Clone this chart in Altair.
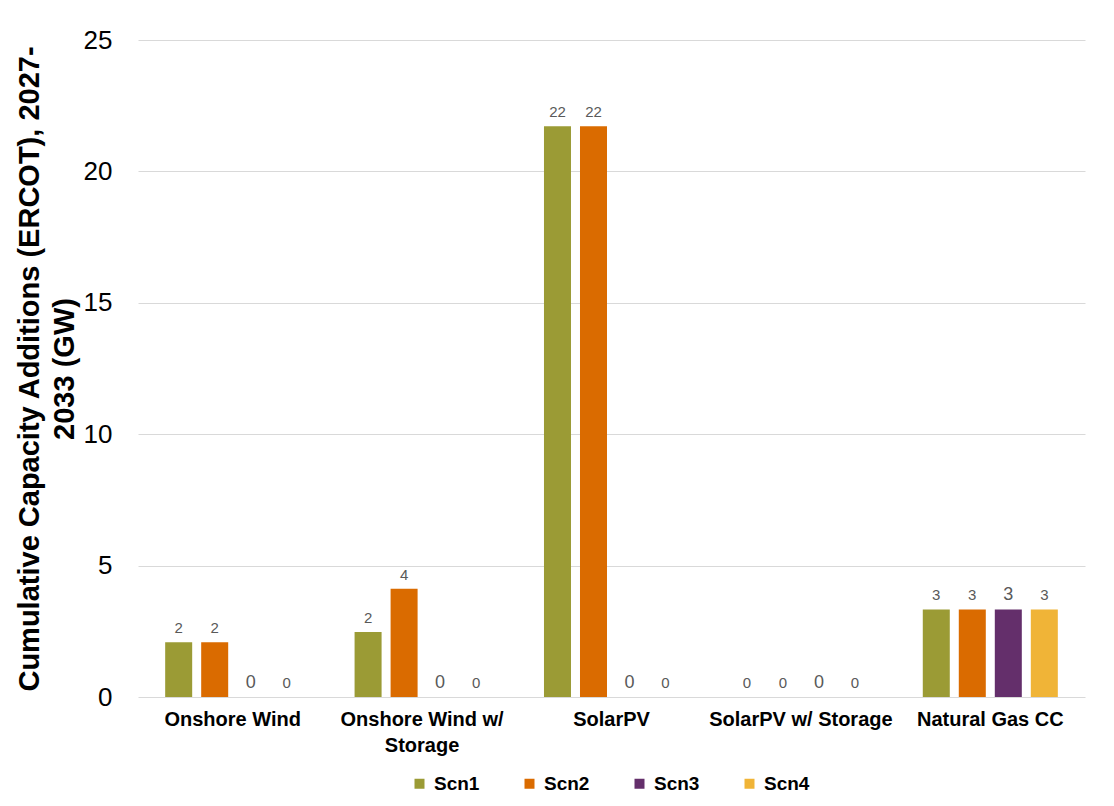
import altair as alt
import pandas as pd

categories = ["Onshore Wind", "Onshore Wind w/ Storage", "SolarPV", "SolarPV w/ Storage", "Natural Gas CC"]
series = ["Scn1", "Scn2", "Scn3", "Scn4"]
scn1 = [2.08, 2.47, 21.72, 0.0, 3.33]
scn2 = [2.08, 4.12, 21.72, 0.0, 3.33]
scn3 = [0.0, 0.0, 0.0, 0.0, 3.33]
scn4 = [0.0, 0.0, 0.0, 0.0, 3.33]
colors = ["#9B9B35", "#DA6B00", "#642F6B", "#F0B437"]

rows = []
for s, vals in zip(series, [scn1, scn2, scn3, scn4]):
    for c, v in zip(categories, vals):
        rows.append({"category": c, "series": s, "value": v})
df = pd.DataFrame(rows)

FONT = "Liberation Sans"

x = alt.X("category:N", sort=categories, title=None,
          scale=alt.Scale(paddingInner=0.287, paddingOuter=0.1435),
          axis=alt.Axis(labelAngle=0, labelFontSize=20, labelFontWeight="bold",
                        labelColor="black", labelFont=FONT, labelPadding=12,
                        labelLineHeight=26,
                        domain=False, ticks=False, labelLimit=300,
                        labelExpr="datum.label == 'Onshore Wind w/ Storage' ? ['Onshore Wind w/', 'Storage'] : datum.label"))
xo = alt.XOffset("series:N", sort=series, scale=alt.Scale(paddingInner=0.25, paddingOuter=0))

base = alt.Chart(df).encode(x=x, xOffset=xo)

bars = base.mark_bar().encode(
    y=alt.Y("value:Q", scale=alt.Scale(domain=[0, 25], nice=False),
            title=["Cumulative Capacity Additions (ERCOT), 2027-", "2033 (GW)"],
            axis=alt.Axis(values=[0, 5, 10, 15, 20, 25], labelFontSize=26, labelColor="black",
                          labelFont=FONT, titleFont=FONT, titleFontSize=29, titleFontWeight="bold",
                          titleColor="black", titleLineHeight=35,
                          domain=False, ticks=False, labelPadding=26,
                          gridColor="#D9D9D9", gridWidth=1, titlePadding=4)),
    color=alt.Color("series:N", sort=series, scale=alt.Scale(domain=series, range=colors),
                    legend=alt.Legend(orient="none", direction="horizontal", title=None,
                                      legendX=272, legendY=734,
                                      symbolType="square", symbolSize=100, symbolStrokeWidth=0,
                                      labelFontSize=19, labelFontWeight="bold", labelFont=FONT,
                                      labelColor="black", columnPadding=40, labelOffset=5)),
)

labels = base.mark_text(baseline="middle", dy=-14, color="#595959", font=FONT).encode(
    y=alt.Y("value:Q"),
    text=alt.Text("value:Q", format=".0f"),
    size=alt.condition("datum.series == 'Scn3'", alt.value(18), alt.value(15)),
)

chart = alt.layer(bars, labels).properties(
    width=947, height=657,
    autosize=alt.AutoSizeParams(type="none"),
    padding={"left": 130, "top": 32, "right": 21, "bottom": 101},
    background="white",
).configure_view(stroke=None)

chart.save("out.html", embed_options={"renderer": "svg", "actions": False})
